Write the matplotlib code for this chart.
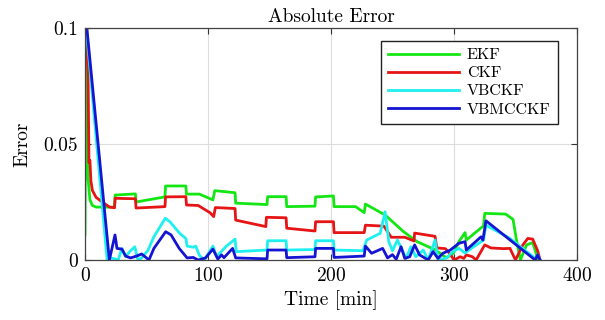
import matplotlib
matplotlib.use('Agg')
import matplotlib.pyplot as plt

# (time [min], absolute error)
ekf_t = [0, 0.8, 1.5, 2.5, 4, 6, 9, 24, 24.5, 41, 41.5, 65, 65.5, 82, 82.5, 93,
         104, 105.5, 122, 122.5, 148, 148.5, 163.5, 164, 187, 187.5, 202,
         202.5, 220, 227, 228, 244, 259, 270, 285, 294, 299.5, 304, 309, 310,
         324, 325, 342, 348, 351, 354, 359, 364, 368, 369]
ekf_e = [0.011, 0.105, 0.1, 0.035, 0.026, 0.0235, 0.0228, 0.0228, 0.028,
         0.0285, 0.025, 0.0272, 0.0319, 0.0319, 0.0284, 0.0284, 0.0259,
         0.0299, 0.029, 0.0245, 0.0239, 0.0273, 0.0273, 0.023, 0.0232,
         0.0272, 0.0276, 0.023, 0.023, 0.0204, 0.0241, 0.0194, 0.0122,
         0.0079, 0.0043, 0.0009, 0.0029, 0.0079, 0.0118, 0.0086, 0.0147,
         0.0201, 0.0198, 0.0175, 0.008, 0.0, 0.0065, 0.0075, 0.0007, 0.0]

ckf_t = [0.5, 2.5, 3.2, 4, 4.8, 6, 9, 14, 20, 24, 24.5, 41, 41.5, 65, 65.5,
         82, 82.5, 92, 101.6, 104.6, 106, 122, 122.5, 147, 147.5, 163.5, 164,
         187, 187.5, 202, 202.5, 227, 228, 243, 249, 260, 267.5, 268, 284.6,
         286, 293, 297, 300, 305, 308, 310, 315, 318, 325, 330, 340, 345.5,
         350, 356, 360, 364, 368, 370]
ckf_e = [0.105, 0.08, 0.042, 0.043, 0.034, 0.03, 0.027, 0.025, 0.0228,
         0.0225, 0.0266, 0.0264, 0.0224, 0.023, 0.0272, 0.0273, 0.0237,
         0.0235, 0.0204, 0.0187, 0.0226, 0.0222, 0.0172, 0.0144, 0.0184,
         0.0182, 0.0137, 0.0125, 0.0165, 0.0165, 0.0118, 0.0118, 0.015,
         0.0146, 0.0098, 0.0098, 0.0082, 0.0116, 0.0102, 0.0052, 0.0049,
         0.0025, 0.0, 0.0014, 0.0007, 0.0022, 0.0014, 0.0, 0.0065, 0.0052,
         0.0049, 0.005, 0.0, 0.0065, 0.0093, 0.009, 0.004, 0.0]

vbckf_t = [1, 9.5, 18, 20, 24, 27, 30, 33, 37, 40.5, 43, 46, 51, 56, 65.3,
           69, 77, 82, 83, 88, 90, 93, 97, 104, 107, 115, 122, 123, 148,
           148.5, 163.5, 164, 187, 187.5, 202, 202.5, 226, 229, 240, 244,
           247, 250, 254, 261, 265, 269, 275, 279, 284.6, 287, 294, 299,
           304, 309, 314, 324, 326, 345, 366, 368, 370]
vbckf_e = [0.1, 0.05, 0.0, 0.001, 0.0005, 0.0, 0.005, 0.0015, 0.004, 0.0057,
           0.0, 0.0009, 0.004, 0.01, 0.018, 0.0165, 0.0115, 0.0093, 0.006,
           0.0055, 0.006, 0.002, 0.0, 0.006, 0.0015, 0.006, 0.009, 0.0036,
           0.0043, 0.0083, 0.0083, 0.0043, 0.0045, 0.0083, 0.0083, 0.0043,
           0.004, 0.0086, 0.0115, 0.0208, 0.0079, 0.004, 0.0086, 0.0007,
           0.0057, 0.0014, 0.0043, 0.0, 0.0086, 0.0, 0.0009, 0.0036, 0.005,
           0.003, 0.005, 0.0086, 0.015, 0.0095, 0.0007, 0.0022, 0.0]

vbmcckf_t = [0, 1.5, 19.8, 24.4, 26, 30, 33, 37, 42, 46, 50, 52, 56, 65.6,
             70, 76.6, 83, 88, 92, 98, 104, 108, 111, 113, 120, 122.5, 148,
             148.5, 163.5, 164, 187, 187.5, 202, 202.5, 227, 228, 233, 242,
             246, 250, 253, 257, 260, 264, 268, 272, 279, 283, 287, 291, 297,
             304, 309, 310, 322, 323.5, 326, 366, 368, 370]
vbmcckf_e = [0.105, 0.1, 0.0, 0.0108, 0.005, 0.0047, 0.0017, 0.0009, 0.0017,
             0.0026, 0.0009, 0.0, 0.005, 0.0122, 0.0108, 0.005, 0.0009,
             0.0011, 0.0, 0.0009, 0.0047, 0.0004, 0.0022, 0.001, 0.005,
             0.0009, 0.0005, 0.0043, 0.0043, 0.001, 0.0014, 0.005, 0.005,
             0.0011, 0.0017, 0.006, 0.0029, 0.005, 0.0009, 0.0023, 0.0003,
             0.0057, 0.0007, 0.0014, 0.0065, 0.0022, 0.0, 0.0036, 0.0007,
             0.0029, 0.0043, 0.0072, 0.0079, 0.0043, 0.01, 0.0086, 0.0169,
             0.0, 0.0022, 0.0]

plt.rcParams['font.family'] = 'serif'
plt.rcParams['font.serif'] = ['cmr10']
plt.rcParams['mathtext.fontset'] = 'cm'
plt.rcParams['axes.formatter.use_mathtext'] = True

fig = plt.figure(figsize=(6.05, 3.2), dpi=100)
ax = fig.add_axes([0.1405, 0.1875, 0.8132, 0.725])

lw = 2.0
ax.plot(ekf_t, ekf_e, color='#14e614', lw=lw, label='EKF')
ax.plot(ckf_t, ckf_e, color='#e61414', lw=lw, label='CKF')
ax.plot(vbckf_t, vbckf_e, color='#1ef0f0', lw=lw, label='VBCKF')
ax.plot(vbmcckf_t, vbmcckf_e, color='#1414d2', lw=lw, label='VBMCCKF')

ax.set_xlim(0, 400)
ax.set_ylim(0, 0.1)
ax.set_xticks([0, 100, 200, 300, 400])
ax.set_yticks([0, 0.05, 0.1])
ax.set_yticklabels(['0', '0.05', '0.1'])
ax.grid(True, color='#dddddd', lw=0.8)
ax.set_axisbelow(True)
ax.tick_params(direction='in', top=True, right=True, labelsize=14,
               length=4, color='#333333', pad=5)
for s in ax.spines.values():
    s.set_color('#444444')
    s.set_linewidth(0.9)

ax.set_title('Absolute Error', fontsize=14, pad=4)
ax.set_xlabel('Time [min]', fontsize=14, labelpad=4)
ax.set_ylabel('Error', fontsize=14, labelpad=9)

leg = ax.legend(loc='upper right', bbox_to_anchor=(0.961, 0.945),
                borderaxespad=0, fontsize=11.5, handlelength=4.4,
                fancybox=False, framealpha=1, edgecolor='#222222',
                borderpad=0.45, labelspacing=0.25, handletextpad=0.5)
leg.get_frame().set_linewidth(1.0)

fig.savefig('out.png', dpi=100)
